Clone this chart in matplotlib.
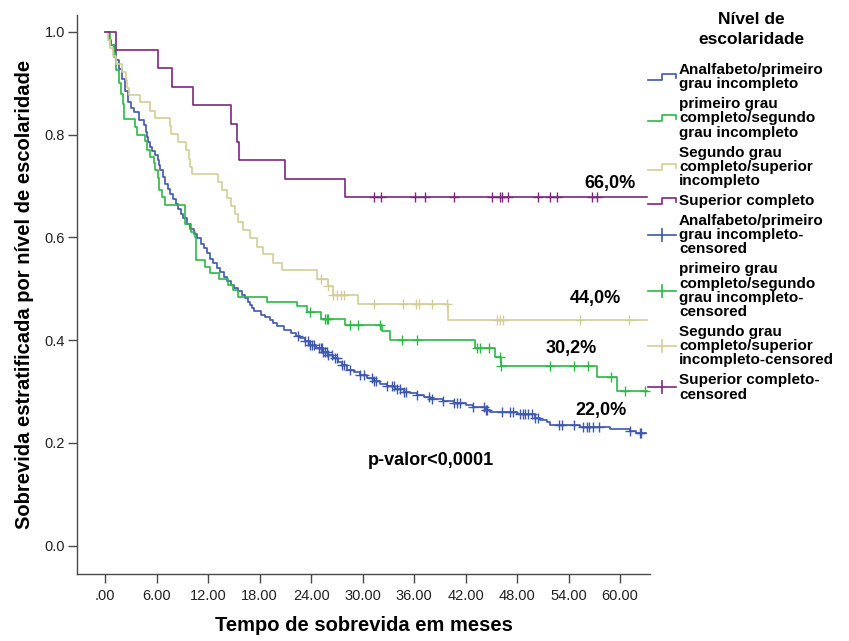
import numpy as np
import matplotlib.pyplot as plt
from matplotlib.lines import Line2D

plt.rcParams['font.family'] = ['Liberation Sans', 'DejaVu Sans']

# Kaplan-Meier estimates by education level (time in months, survival after each drop)
group_labels = [
    'Analfabeto/primeiro\ngrau incompleto',
    'primeiro grau\ncompleto/segundo\ngrau incompleto',
    'Segundo grau\ncompleto/superior\nincompleto',
    'Superior completo',
]
censor_labels = [
    'Analfabeto/primeiro\ngrau incompleto-\ncensored',
    'primeiro grau\ncompleto/segundo\ngrau incompleto-\ncensored',
    'Segundo grau\ncompleto/superior\nincompleto-censored',
    'Superior completo-\ncensored',
]
colors = ['#3e58ac', '#2eb848', '#d3ce97', '#7c287d']

t_analf = [0.0, 0.4, 0.7, 1.0, 1.3, 1.55, 1.9, 2.3, 2.7, 3.0, 3.3, 3.9, 4.5, 4.7, 4.85,
           5.0, 5.24, 5.5, 5.8, 6.2, 6.3, 6.4, 6.7, 7.0, 7.3, 7.6, 7.9, 8.2, 8.5, 8.8,
           9.1, 9.5, 9.9, 10.3, 10.7, 11.1, 11.5, 11.8, 12.2, 12.6, 13.0, 13.4, 13.8,
           14.2, 14.6, 15.0, 15.5, 15.9, 16.3, 16.6, 16.9, 17.1, 17.3, 18.1, 18.6, 19.2,
           19.6, 20.0, 20.8, 21.6, 22.2, 22.7, 23.3, 23.9, 24.6, 25.4, 26.0, 26.6, 27.1,
           27.6, 28.2, 29.0, 29.7, 30.5, 31.3, 32.0, 32.8, 33.8, 34.8, 35.5, 36.3, 37.1,
           37.9, 39.4, 40.6, 42.0, 42.9, 44.3, 44.9, 48.0, 50.1, 50.7, 51.5, 51.8, 55.3,
           58.8, 61.2, 61.9]
s_analf = [1.0, 0.985, 0.975, 0.963, 0.945, 0.928, 0.909, 0.886, 0.863, 0.852, 0.844, 0.828,
           0.818, 0.805, 0.796, 0.786, 0.776, 0.768, 0.760, 0.751, 0.741, 0.731, 0.718,
           0.705, 0.695, 0.685, 0.675, 0.666, 0.656, 0.646, 0.637, 0.626, 0.616, 0.607,
           0.598, 0.588, 0.579, 0.569, 0.559, 0.550, 0.540, 0.532, 0.524, 0.516, 0.508,
           0.502, 0.495, 0.488, 0.482, 0.475, 0.469, 0.462, 0.456, 0.450, 0.445, 0.440,
           0.433, 0.427, 0.420, 0.414, 0.409, 0.404, 0.398, 0.391, 0.384, 0.377, 0.371,
           0.365, 0.358, 0.352, 0.343, 0.338, 0.333, 0.326, 0.320, 0.315, 0.310, 0.305,
           0.300, 0.297, 0.293, 0.289, 0.285, 0.281, 0.277, 0.273, 0.270, 0.265, 0.260,
           0.256, 0.249, 0.245, 0.240, 0.235, 0.232, 0.228, 0.224, 0.220]
c_analf = [22.5, 23.3, 23.6, 23.9, 24.1, 24.3, 24.9, 25.1, 25.3, 25.4, 25.6, 25.8, 26.0,
           26.4, 26.8, 27.0, 27.6, 27.8, 28.5, 29.7, 30.1, 31.1, 31.3, 31.5, 32.8, 33.4,
           33.6, 34.0, 34.4, 34.8, 35.1, 36.3, 37.7, 38.1, 39.4, 40.6, 41.0, 41.4, 42.9,
           44.1, 44.4, 44.5, 46.2, 47.2, 47.5, 48.4, 48.7, 48.9, 49.3, 49.7, 50.1, 50.5,
           52.9, 53.2, 54.6, 55.7, 56.1, 56.4, 56.9, 57.5, 61.2, 62.3, 62.5]

t_prim = [0.0, 0.5, 1.05, 1.28, 1.55, 1.8, 2.1, 2.2, 3.5, 3.7, 4.66, 4.85, 5.24, 5.63, 5.8,
          6.2, 6.3, 6.6, 7.0, 9.24, 10.0, 10.4, 10.6, 11.6, 12.2, 13.2, 14.3, 14.9, 15.5,
          18.8, 22.3, 23.5, 25.1, 28.0, 32.2, 33.2, 43.1, 45.4, 46.1, 57.3, 59.6]
s_prim = [1.0, 0.975, 0.951, 0.925, 0.900, 0.880, 0.860, 0.831, 0.815, 0.799, 0.787, 0.770,
          0.757, 0.744, 0.731, 0.715, 0.693, 0.679, 0.663, 0.627, 0.611, 0.601, 0.556,
          0.543, 0.530, 0.520, 0.508, 0.498, 0.485, 0.475, 0.466, 0.455, 0.442, 0.430,
          0.417, 0.401, 0.384, 0.368, 0.349, 0.328, 0.302]
c_prim = [23.9, 25.6, 25.8, 26.0, 28.5, 29.5, 32.0, 34.6, 36.3, 43.3, 43.7, 44.7, 46.0,
          46.1, 51.8, 54.6, 56.3, 59.0, 60.6, 62.9]

t_seg = [0.0, 0.3, 0.6, 0.9, 1.3, 1.9, 2.4, 2.5, 2.8, 4.0, 5.2, 5.8, 7.6, 7.7, 8.5, 9.4,
         9.7, 9.9, 10.1, 13.1, 13.6, 14.2, 14.6, 15.1, 15.5, 16.1, 16.9, 17.7, 18.4, 19.6,
         20.6, 24.7, 26.0, 26.6, 29.5, 40.0]
s_seg = [1.0, 0.984, 0.969, 0.953, 0.938, 0.922, 0.906, 0.891, 0.878, 0.863, 0.847, 0.832,
         0.817, 0.802, 0.786, 0.770, 0.753, 0.737, 0.724, 0.708, 0.692, 0.677, 0.661,
         0.646, 0.630, 0.614, 0.598, 0.582, 0.567, 0.551, 0.536, 0.520, 0.505, 0.489,
         0.470, 0.440]
c_seg = [25.2, 26.0, 26.6, 27.0, 27.5, 27.8, 31.3, 34.7, 36.2, 36.6, 38.1, 39.8, 45.7,
         46.0, 46.4, 55.3, 61.1]

t_sup = [0.0, 1.2, 6.2, 7.8, 10.2, 14.6, 15.3, 15.6, 21.0, 27.9]
s_sup = [1.0, 0.964, 0.929, 0.893, 0.857, 0.821, 0.786, 0.750, 0.714, 0.679]
c_sup = [31.3, 32.1, 36.1, 37.3, 40.7, 45.1, 46.0, 46.2, 46.9, 50.5, 51.8, 52.7, 56.7,
         57.3]

last_time = [63.0, 63.1, 63.1, 63.1]

final_labels = ['22,0%', '30,2%', '44,0%', '66,0%']
final_label_pos = [(57.8, 0.264), (54.3, 0.384), (57.1, 0.482), (58.8, 0.705)]

curves = [(t_analf, s_analf, c_analf), (t_prim, s_prim, c_prim),
          (t_seg, s_seg, c_seg), (t_sup, s_sup, c_sup)]

W, H = 849, 641
fig = plt.figure(figsize=(W / 100, H / 100), dpi=100)
ax = fig.add_axes([77 / W, 1 - 574 / H, 573 / W, 559 / H])

draw_order = [1, 0, 2, 3]
for i in draw_order:
    t, s, c = curves[i]
    tt = np.append(t, last_time[i])
    ss = np.append(s, s[-1])
    ax.step(tt, ss, where='post', color=colors[i], lw=1.2, zorder=2 + i)
    idx = np.searchsorted(t, c, side='right') - 1
    ax.plot(c, np.asarray(s)[idx], ls='none', marker='+', ms=7, mew=1.0,
            color=colors[i], zorder=2 + i)

for txt, (x, y) in zip(final_labels, final_label_pos):
    ax.text(x, y, txt, fontsize=13, fontweight='bold', ha='center', va='center')
ax.text(37.9, 0.165, 'p-valor<0,0001', fontsize=13, fontweight='bold',
        ha='center', va='center')

ax.set_xlim(-3.3, 63.5)
ax.set_ylim(-0.055, 1.033)
ax.set_xticks(np.arange(0, 61, 6))
ax.set_xticklabels(['.00'] + ['%.2f' % v for v in np.arange(6, 61, 6)])
ax.set_yticks(np.arange(0, 1.01, 0.2))
ax.set_yticklabels(['%.1f' % v for v in np.arange(0, 1.01, 0.2)])
for side in ['top', 'right']:
    ax.spines[side].set_visible(False)
for side in ['left', 'bottom']:
    ax.spines[side].set_color('#4a4a4a')
    ax.spines[side].set_linewidth(1.0)
ax.tick_params(axis='both', direction='out', length=6.5, width=1.0, color='#4a4a4a',
               labelsize=10.5, labelcolor='#222222')
ax.tick_params(axis='x', pad=4)
ax.tick_params(axis='y', pad=2)
ax.set_xlabel('Tempo de sobrevida em meses', fontsize=14.5, fontweight='bold', labelpad=10)
ax.set_ylabel('Sobrevida estratificada por nível de escolaridade', fontsize=14.5,
              fontweight='bold', labelpad=8)


def fig_xy(x, y):
    return x / W, 1 - y / H


# legend drawn in pixel units on the right side
fig.text(*fig_xy(751, 20), 'Nível de', fontsize=12.5, fontweight='bold',
         ha='center', va='center')
fig.text(*fig_xy(751, 40), 'escolaridade', fontsize=12.5, fontweight='bold',
         ha='center', va='center')

entries = [(lbl, colors[i], False) for i, lbl in enumerate(group_labels)] + \
          [(lbl, colors[i], True) for i, lbl in enumerate(censor_labels)]
pitch, gap = 14.2, 5.8
y = 70.0
for lbl, col, censored in entries:
    lines = lbl.split('\n')
    for k, line in enumerate(lines):
        fig.text(*fig_xy(679, y + k * pitch), line, fontsize=11, fontweight='bold',
                 ha='left', va='center')
    yc = y + (len(lines) - 1) * pitch / 2
    if censored:
        xs, ys = [648, 676], [yc, yc]
        fig.add_artist(Line2D(*zip(*[fig_xy(a, b) for a, b in zip(xs, ys)]),
                              color=col, lw=1.2, transform=fig.transFigure))
        fig.add_artist(Line2D(*zip(*[fig_xy(662, yc - 6), fig_xy(662, yc + 6)]),
                              color=col, lw=1.2, transform=fig.transFigure))
    else:
        pts = [(648, yc + 3), (662, yc + 3), (662, yc - 3), (676, yc - 3), (676, yc + 1)]
        fig.add_artist(Line2D(*zip(*[fig_xy(a, b) for a, b in pts]),
                              color=col, lw=1.2, transform=fig.transFigure))
    y += len(lines) * pitch + gap

fig.savefig('out.png', dpi=100)
